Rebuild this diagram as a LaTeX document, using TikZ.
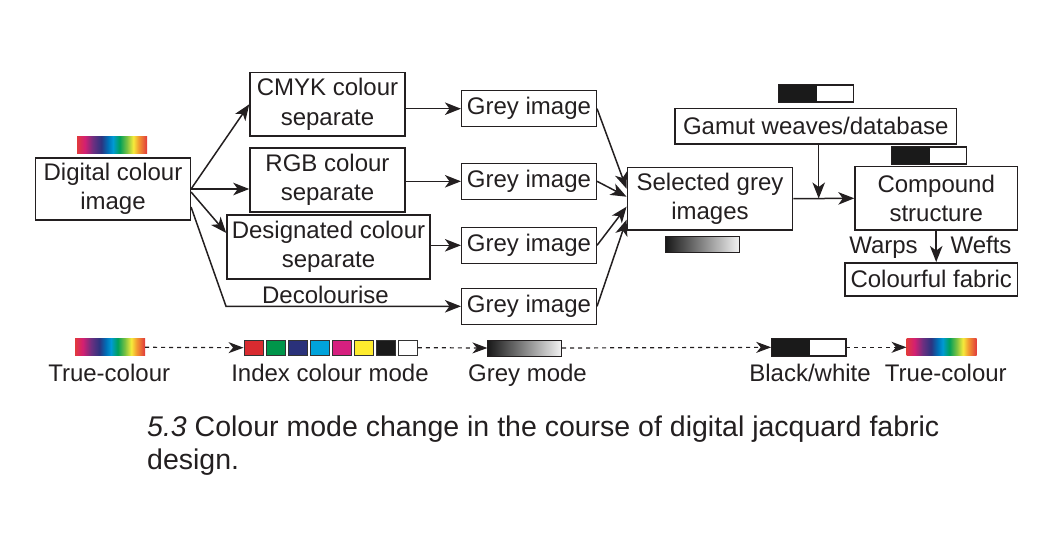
\documentclass[tikz,border=0pt]{standalone}
\usepackage{fontspec}
\setmainfont{Liberation Sans}
\usetikzlibrary{arrows.meta,calc}
\definecolor{ink}{HTML}{231F20}
\definecolor{rbred}{HTML}{E1393D}
\definecolor{rbpink}{HTML}{D41F72}
\definecolor{rbpurple}{HTML}{6E2F80}
\definecolor{rbnavy}{HTML}{2C3480}
\definecolor{rbblue}{HTML}{0070B8}
\definecolor{rbcyan}{HTML}{009AD4}
\definecolor{rbgreen}{HTML}{00A05A}
\definecolor{rblgreen}{HTML}{7CC242}
\definecolor{rbyellow}{HTML}{F6EB3B}
\definecolor{rborange}{HTML}{F39A30}
\definecolor{ixred}{HTML}{D92B30}
\definecolor{ixgreen}{HTML}{00954A}
\definecolor{ixnavy}{HTML}{2A317A}
\definecolor{ixcyan}{HTML}{00A3DB}
\definecolor{ixmag}{HTML}{D6207F}
\definecolor{ixyellow}{HTML}{FFEC2E}
\definecolor{ixblack}{HTML}{1A1A1A}
\pgfdeclarehorizontalshading{rainbow}{100bp}{%
color(0bp)=(rbred); color(25bp)=(rbred); color(30.5bp)=(rbpink);
color(36.4bp)=(rbpurple); color(42.4bp)=(rbnavy); color(47.1bp)=(rbblue);
color(50.7bp)=(rbcyan); color(55.5bp)=(rbgreen); color(60.7bp)=(rblgreen);
color(65.2bp)=(rbyellow); color(69bp)=(rborange); color(75bp)=(rbred);
color(100bp)=(rbred)}
\newcommand{\mainfs}{\fontsize{24}{29.5}\selectfont}
\newcommand{\capfs}{\fontsize{28.5}{33}\selectfont}
\tikzset{
  box/.style={draw=ink, line width=1.5pt, align=center, inner sep=0pt,
    font=\mainfs, text=ink},
  lbl/.style={font=\mainfs, text=ink, inner sep=0pt, anchor=base},
  arr/.style={draw=ink, line width=1.5pt, -{Stealth[length=16pt,width=12.5pt,inset=4.5pt]}},
  darr/.style={draw=ink, line width=1.2pt, dash pattern=on 4pt off 4pt,
    -{Stealth[length=15pt,width=11pt,inset=4.5pt]}},
  rbbar/.style={shading=rainbow, minimum width=70pt, minimum height=17pt,
    inner sep=0pt, draw=none},
  greybar/.style={left color=black!90, right color=black!5, draw=ink,
    line width=1pt, minimum width=73.6pt, minimum height=16pt, inner sep=0pt},
  bwbar/.style={draw=ink, line width=1pt, fill=white, minimum width=74pt,
    minimum height=16.5pt, inner sep=0pt},
  ix/.style={draw=black!80, line width=0.9pt, minimum width=19.5pt,
    minimum height=15.5pt, inner sep=0pt},
}
\begin{document}
\begin{tikzpicture}[x=1pt,y=-1pt]
\useasboundingbox (0,0) rectangle (1056,536);
% main boxes
\node[box, minimum width=154.6pt, minimum height=62pt] (dig) at (113,189) {Digital colour\\image};
\node[box, minimum width=155pt, minimum height=63.3pt] (cmyk) at (327.5,104.3) {CMYK colour\\separate};
\node[box, minimum width=155pt, minimum height=64pt] (rgb) at (327.5,180) {RGB colour\\separate};
\node[box, minimum width=203pt, minimum height=64pt] (desig) at (328.5,247) {Designated colour\\separate};
\node[box, minimum width=134.6pt, minimum height=36pt] (g1) at (529,108.7) {Grey image};
\node[box, minimum width=134.6pt, minimum height=36pt] (g2) at (529,181.3) {Grey image};
\node[box, minimum width=134.6pt, minimum height=36pt] (g3) at (529,245.3) {Grey image};
\node[box, minimum width=134.6pt, minimum height=36pt] (g4) at (529,306.3) {Grey image};
\node[box, minimum width=165.4pt, minimum height=62.7pt] (sel) at (710,198.7) {Selected grey\\images};
\node[box, minimum width=281.7pt, minimum height=35.3pt] (gamut) at (815.8,126.3) {Gamut weaves/database};
\node[box, minimum width=162.3pt, minimum height=63.3pt] (comp) at (936.2,198.3) {Compound\\structure};
\node[box, minimum width=172.3pt, minimum height=33.3pt] (fab) at (931.2,279.4) {Colourful fabric};
% bars in main diagram
\node[rbbar] (rbtop) at (112,144.5) {};
\node[greybar] (gsel) at (702.5,244.7) {};
\node[bwbar] (bwg) at (816.3,93.7) {};
\fill[ixblack] (bwg.north west) rectangle ($(bwg.south west)+(38.4,0)$);
\draw[ink, line width=1pt] (bwg.north west) rectangle (bwg.south east);
\node[bwbar] (bwc) at (929.4,155.3) {};
\fill[ixblack] (bwc.north west) rectangle ($(bwc.south west)+(38,0)$);
\draw[ink, line width=1pt] (bwc.north west) rectangle (bwc.south east);
% connectors
\draw[arr] (dig.east) -- (cmyk.west);
\draw[arr] (dig.east) -- (rgb.west |- dig.east);
\draw[arr] ($(dig.east)+(0,3)$) -- ($(desig.west)+(0,-14)$);
\coordinate (dcorner) at (226,306.3);
\draw[arr] ($(dig.east)+(0,18)$) -- (dcorner) -- (g4.west);
\node[lbl] (decol) at (325.5,303) {Decolourise};
\draw[arr] (cmyk.east |- g1.west) -- (g1.west);
\draw[arr] (rgb.east |- g2.west) -- (g2.west);
\draw[arr] (desig.east |- g3.west) -- (g3.west);
\draw[arr] (g1.east) -- ($(sel.west)+(0,-10)$);
\draw[arr] (g2.east) -- ($(sel.west)+(0,-2)$);
\draw[arr] (g3.east) -- ($(sel.west)+(0,8)$);
\draw[arr] (g4.east) -- ($(sel.west)+(0,21)$);
\draw[arr] (sel.east) -- (comp.west);
\coordinate (junc) at (818.7,198.5);
\draw[arr] (gamut.south -| junc) -- (junc);
\draw[arr] (comp.south) -- (comp.south |- fab.north);
\node[lbl] (warps) at (883.5,253) {Warps};
\node[lbl] (wefts) at (981,253) {Wefts};
% bottom strip
\node[rbbar] (rb1) at (110,347.3) {};
\node[ix, fill=ixred] (i1) at (253.75,347.7) {};
\node[ix, fill=ixgreen] (i2) at (275.75,347.7) {};
\node[ix, fill=ixnavy] (i3) at (297.75,347.7) {};
\node[ix, fill=ixcyan] (i4) at (319.75,347.7) {};
\node[ix, fill=ixmag] (i5) at (341.75,347.7) {};
\node[ix, fill=ixyellow] (i6) at (363.75,347.7) {};
\node[ix, fill=ixblack] (i7) at (385.75,347.7) {};
\node[ix, fill=white] (i8) at (407.75,347.7) {};
\node[greybar] (gm) at (524.7,348) {};
\node[bwbar] (bwm) at (808.7,347.3) {};
\fill[ixblack] (bwm.north west) rectangle ($(bwm.south west)+(38.3,0)$);
\draw[ink, line width=1pt] (bwm.north west) rectangle (bwm.south east);
\node[rbbar] (rb2) at (941.7,347.3) {};
\draw[darr] (rb1.east) -- (i1.west);
\draw[darr] (i8.east) -- (gm.west);
\draw[darr] (gm.east) -- (bwm.west);
\draw[darr] (bwm.east) -- (rb2.west);
\node[lbl] (tc1) at (109.2,381.7) {True-colour};
\node[lbl] (icm) at (330,381.7) {Index colour mode};
\node[lbl] (gmode) at (527.5,381.7) {Grey mode};
\node[lbl] (bwl) at (810,381.7) {Black/white};
\node[lbl] (tc2) at (945.8,381.7) {True-colour};
% caption
\node[font=\capfs, text=ink, inner sep=0pt, anchor=base west] (cap1) at (147,436) {\textit{5.3} Colour mode change in the course of digital jacquard fabric};
\node[font=\capfs, text=ink, inner sep=0pt, anchor=base west] (cap2) at (147,469) {design.};
\end{tikzpicture}
\end{document}
